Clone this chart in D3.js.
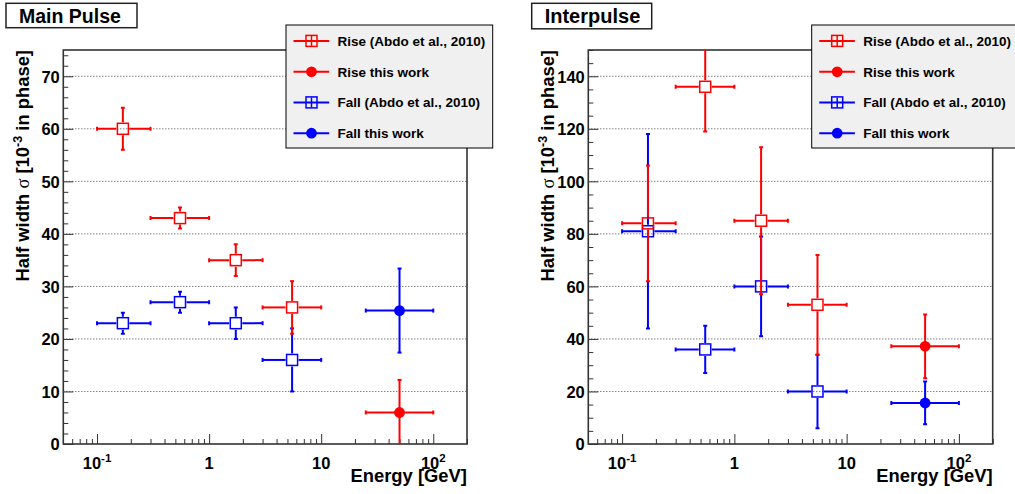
<!DOCTYPE html>
<html><head><meta charset="utf-8">
<script src="https://cdn.jsdelivr.net/npm/d3@7"></script>
<style>
body{margin:0;background:#fff;}
svg{display:block;font-family:"Liberation Sans",Arial,Helvetica,sans-serif;font-weight:bold;}
</style></head><body>
<svg id="c" width="1015" height="494"></svg>
<script>
// ---------------- data ----------------
const panelTitles = ["Main Pulse", "Interpulse"];
const legendLabels = ["Rise (Abdo et al., 2010)", "Rise this work", "Fall (Abdo et al., 2010)", "Fall this work"];
const xTitle = "Energy [GeV]";

const energyAbdo = [0.17, 0.55, 1.73, 5.5];
const energyAbdoLow = [0.1, 0.3, 1, 3];
const energyAbdoHigh = [0.3, 1, 3, 10];
const energyThis = [50];
const energyThisLow = [25];
const energyThisHigh = [100];

// Main pulse
const mpRiseAbdo = [60, 43, 35, 26];
const mpRiseAbdoLow = [56, 41, 32, 21];
const mpRiseAbdoHigh = [64, 45, 38, 31];
const mpFallAbdo = [23, 27, 23, 16];
const mpFallAbdoLow = [21, 25, 20, 10];
const mpFallAbdoHigh = [25, 29, 26, 22];
const mpRiseThis = [6];
const mpRiseThisLow = [0];
const mpRiseThisHigh = [12.2];
const mpFallThis = [25.4];
const mpFallThisLow = [17.4];
const mpFallThisHigh = [33.4];

// Interpulse
const ipRiseAbdo = [84, 136, 85, 53];
const ipRiseAbdoLow = [62, 119, 57, 34];
const ipRiseAbdoHigh = [106, 153, 113, 72];
const ipFallAbdo = [81, 36, 60, 20];
const ipFallAbdoLow = [44, 27, 41, 6];
const ipFallAbdoHigh = [118, 45, 79, 34];
const ipRiseThis = [37.2];
const ipRiseThisLow = [25];
const ipRiseThisHigh = [49.3];
const ipFallThis = [15.6];
const ipFallThisLow = [7.5];
const ipFallThisHigh = [23.8];

const xDomain = [0.05, 200];
const xTickValues = [0.1, 1, 10, 100];
const xTickBases = ["10", "1", "10", "10"];
const xTickExps = ["-1", "", "", "2"];
const mpYDomain = [0, 75];
const mpYTicks = [0, 10, 20, 30, 40, 50, 60, 70];
const ipYDomain = [0, 150];
const ipYTicks = [0, 20, 40, 60, 80, 100, 120, 140];

// ---------------- drawing ----------------
const svg = d3.select("#c");
const RED = "#ff0000", BLUE = "#0000ff";

function makeSeries(xs, xl, xh, ys, yl, yh, color, marker) {
  return xs.map((x, i) => ({x, xl: xl[i], xh: xh[i], y: ys[i], yl: yl[i], yh: yh[i], color, marker}));
}

const panels = [
  {
    title: panelTitles[0], left: 63.3, right: 467, top: 50, bottom: 444,
    titleBox: [6, 3.3, 131, 24.4], titleSize: 19.5,
    yDomain: mpYDomain, yTicks: mpYTicks, yMinorStep: 2,
    legendX: 286,
    series: [
      makeSeries(energyAbdo, energyAbdoLow, energyAbdoHigh, mpFallAbdo, mpFallAbdoLow, mpFallAbdoHigh, BLUE, "square"),
      makeSeries(energyAbdo, energyAbdoLow, energyAbdoHigh, mpRiseAbdo, mpRiseAbdoLow, mpRiseAbdoHigh, RED, "square"),
      makeSeries(energyThis, energyThisLow, energyThisHigh, mpFallThis, mpFallThisLow, mpFallThisHigh, BLUE, "circle"),
      makeSeries(energyThis, energyThisLow, energyThisHigh, mpRiseThis, mpRiseThisLow, mpRiseThisHigh, RED, "circle")
    ]
  },
  {
    title: panelTitles[1], left: 588.3, right: 992.7, top: 50, bottom: 444,
    titleBox: [531.7, 3.3, 120, 25.5], titleSize: 20,
    yDomain: ipYDomain, yTicks: ipYTicks, yMinorStep: 5,
    legendX: 811.7,
    series: [
      makeSeries(energyAbdo, energyAbdoLow, energyAbdoHigh, ipFallAbdo, ipFallAbdoLow, ipFallAbdoHigh, BLUE, "square"),
      makeSeries(energyAbdo, energyAbdoLow, energyAbdoHigh, ipRiseAbdo, ipRiseAbdoLow, ipRiseAbdoHigh, RED, "square"),
      makeSeries(energyThis, energyThisLow, energyThisHigh, ipFallThis, ipFallThisLow, ipFallThisHigh, BLUE, "circle"),
      makeSeries(energyThis, energyThisLow, energyThisHigh, ipRiseThis, ipRiseThisLow, ipRiseThisHigh, RED, "circle")
    ]
  }
];

panels.forEach((p, pi) => {
  const x = d3.scaleLog().domain(xDomain).range([p.left, p.right]);
  const y = d3.scaleLinear().domain(p.yDomain).range([p.bottom, p.top]);
  const g = svg.append("g");

  // gridlines
  g.selectAll("line.grid").data(p.yTicks.filter(v => v > 0)).join("line")
    .attr("x1", p.left).attr("x2", p.right)
    .attr("y1", d => y(d)).attr("y2", d => y(d))
    .attr("stroke", "#444").attr("stroke-width", 1).attr("stroke-dasharray", "1,2");

  // y axis ticks (minor + major) via d3 axes
  const minor = d3.range(p.yDomain[0], p.yDomain[1] + 0.001, p.yMinorStep).filter(v => !p.yTicks.includes(v));
  g.append("g").attr("transform", `translate(${p.left},0)`)
    .call(d3.axisLeft(y).tickValues(minor).tickSize(-5).tickFormat(""))
    .call(a => { a.select(".domain").remove(); a.selectAll("line").attr("stroke", "#333"); });
  const yAx = g.append("g").attr("transform", `translate(${p.left},0)`)
    .call(d3.axisLeft(y).tickValues(p.yTicks).tickSize(-10).tickPadding(3.5).tickFormat(d3.format("d")))
    .call(a => { a.select(".domain").remove(); a.selectAll("line").attr("stroke", "#333"); });
  yAx.selectAll("text").attr("font-size", 16.5).attr("font-weight", "bold")
    .attr("font-family", '"Liberation Sans",Arial,sans-serif').attr("fill", "#000").attr("dy", "0.36em");

  // x axis ticks
  const allX = x.ticks().filter(v => v > xDomain[0] * 1.001);
  const minorX = allX.filter(v => !xTickValues.some(t => Math.abs(t - v) / t < 1e-6));
  g.append("g").attr("transform", `translate(0,${p.bottom})`)
    .call(d3.axisBottom(x).tickValues(minorX).tickSize(-5).tickFormat(""))
    .call(a => { a.select(".domain").remove(); a.selectAll("line").attr("stroke", "#333"); });
  g.append("g").attr("transform", `translate(0,${p.bottom})`)
    .call(d3.axisBottom(x).tickValues(xTickValues).tickSize(-10).tickFormat(""))
    .call(a => { a.select(".domain").remove(); a.selectAll("line").attr("stroke", "#333"); });

  // x tick labels with superscripts
  xTickValues.forEach((v, i) => {
    const t = g.append("text").attr("x", x(v)).attr("y", 468.5).attr("text-anchor", "middle")
      .attr("font-size", 16.5).attr("fill", "#000");
    t.append("tspan").text(xTickBases[i]);
    if (xTickExps[i]) t.append("tspan").attr("dy", -7).attr("font-size", 11.5).text(xTickExps[i]);
  });

  // frame
  g.append("rect").attr("x", p.left).attr("y", p.top)
    .attr("width", p.right - p.left).attr("height", p.bottom - p.top)
    .attr("fill", "none").attr("stroke", "#333").attr("stroke-width", 1.6);

  // axis titles
  g.append("text").attr("x", p.right).attr("y", 482).attr("text-anchor", "end")
    .attr("font-size", 18.4).attr("fill", "#000").text(xTitle);
  const yt = g.append("text").attr("transform", `translate(${p.left - 34.3},${p.top}) rotate(-90)`)
    .attr("text-anchor", "end").attr("font-size", 18.4).attr("fill", "#000");
  yt.append("tspan").text("Half width ");
  yt.append("tspan").attr("font-weight", "normal").attr("font-family", '"Liberation Serif","DejaVu Serif",serif').text("\u03c3");
  yt.append("tspan").text(" [10");
  yt.append("tspan").attr("dy", -7).attr("font-size", 12.5).text("-3");
  yt.append("tspan").attr("dy", 7).text(" in phase]");

  // clip
  const clipId = "clip" + pi;
  svg.append("clipPath").attr("id", clipId).append("rect")
    .attr("x", p.left).attr("y", p.top).attr("width", p.right - p.left).attr("height", p.bottom - p.top);
  const dg = g.append("g").attr("clip-path", `url(#${clipId})`);

  p.series.forEach(s => {
    s.forEach(d => {
      const cx = x(d.x), cy = y(d.y);
      const gap = d.marker === "square" ? 6.5 : 0;
      const pg = dg.append("g").attr("stroke", d.color).attr("stroke-width", 2).attr("fill", "none");
      const segs = [
        [x(d.xl), cy, cx - gap, cy], [cx + gap, cy, x(d.xh), cy],
        [cx, y(d.yl), cx, cy + gap], [cx, cy - gap, cx, y(d.yh)]
      ];
      segs.forEach(sg => { if (Math.abs(sg[0]-sg[2]) + Math.abs(sg[1]-sg[3]) > 0.5)
        pg.append("line").attr("x1", sg[0]).attr("y1", sg[1]).attr("x2", sg[2]).attr("y2", sg[3]); });
      // caps
      [x(d.xl), x(d.xh)].forEach(xx => pg.append("line").attr("x1", xx).attr("x2", xx).attr("y1", cy - 2).attr("y2", cy + 2));
      [y(d.yl), y(d.yh)].forEach(yy => pg.append("line").attr("x1", cx - 2).attr("x2", cx + 2).attr("y1", yy).attr("y2", yy));
      if (d.marker === "square") {
        pg.append("rect").attr("x", cx - 5.5).attr("y", cy - 5.5).attr("width", 11).attr("height", 11)
          .attr("stroke-width", 1.5);
      } else {
        pg.append("circle").attr("cx", cx).attr("cy", cy).attr("r", 5.4).attr("fill", d.color).attr("stroke", "none");
      }
    });
  });

  // title box
  const tb = p.titleBox;
  g.append("rect").attr("x", tb[0]).attr("y", tb[1]).attr("width", tb[2]).attr("height", tb[3])
    .attr("fill", "#fff").attr("stroke", "#222").attr("stroke-width", 1.5);
  g.append("text").attr("x", tb[0] + 13).attr("y", 22.5).attr("font-size", p.titleSize).attr("fill", "#000").text(p.title);

  // legend
  const lg = g.append("g").attr("transform", `translate(${p.legendX},25)`);
  lg.append("rect").attr("x", 0).attr("y", 0).attr("width", 206.7).attr("height", 123)
    .attr("fill", "#f0f0f0").attr("stroke", "#000").attr("stroke-width", 1);
  const legendColors = [RED, RED, BLUE, BLUE];
  const legendMarkers = ["square", "circle", "square", "circle"];
  const legendY = [15.9, 46.8, 77.4, 108.2];
  legendLabels.forEach((lab, i) => {
    const ly = legendY[i], c = legendColors[i];
    lg.append("line").attr("x1", 7.5).attr("x2", 43.2).attr("y1", ly).attr("y2", ly).attr("stroke", c).attr("stroke-width", 2);
    if (legendMarkers[i] === "square") {
      lg.append("line").attr("x1", 25.5).attr("x2", 25.5).attr("y1", ly - 5).attr("y2", ly + 5).attr("stroke", c).attr("stroke-width", 1.5);
      lg.append("rect").attr("x", 25.5 - 5.5).attr("y", ly - 5.5).attr("width", 11).attr("height", 11)
        .attr("fill", "none").attr("stroke", c).attr("stroke-width", 1.5);
    } else {
      lg.append("circle").attr("cx", 25.5).attr("cy", ly).attr("r", 5.4).attr("fill", c);
    }
    lg.append("text").attr("x", 51.5).attr("y", ly + 5).attr("font-size", 13.5).attr("fill", "#000").text(lab);
  });
});
</script>
</body></html>
